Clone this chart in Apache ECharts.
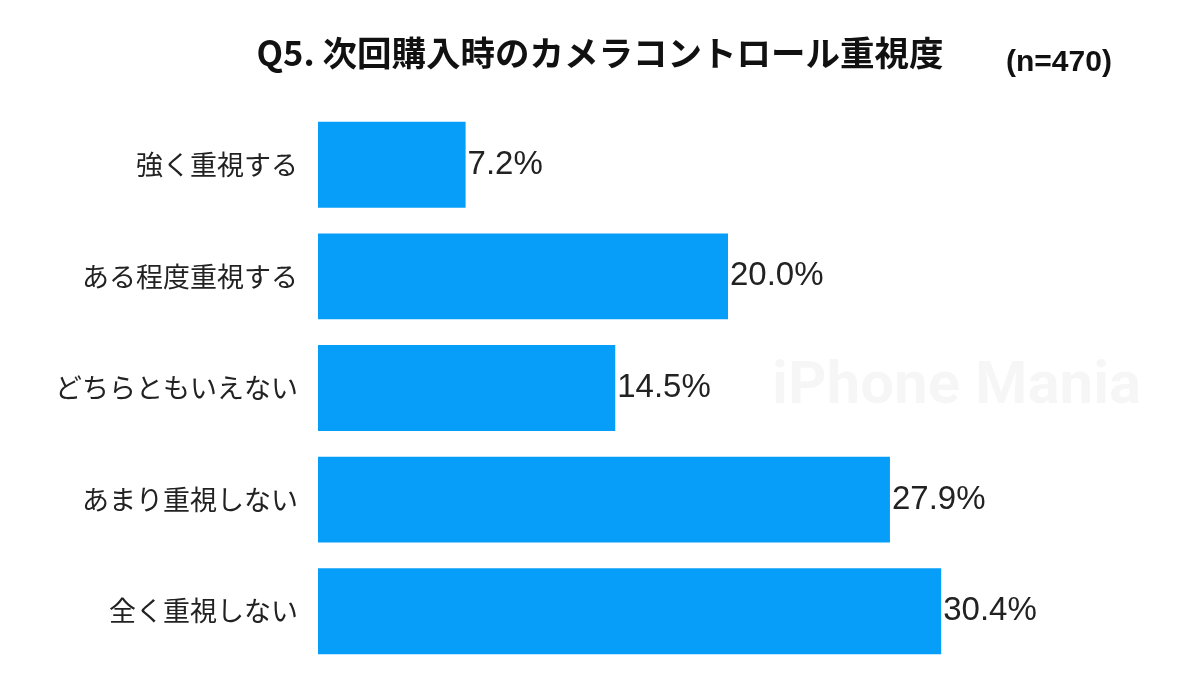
<!DOCTYPE html>
<html><head><meta charset="utf-8">
<script src="https://cdn.jsdelivr.net/npm/echarts@6/dist/echarts.min.js"></script>
<style>body{margin:0;background:#fff}#c{width:1200px;height:675px}</style></head>
<body><div id="c"></div>
<script>
const categories = ["強く重視する","ある程度重視する","どちらともいえない","あまり重視しない","全く重視しない"];
const values = [7.2, 20.0, 14.5, 27.9, 30.4];
const chart = echarts.init(document.getElementById('c'));
const F = '"Noto Sans CJK JP", sans-serif';
const L = '"Liberation Sans", Arial, sans-serif';
chart.setOption({
  animation:false,
  graphic:[
    {type:'text',left:'center',top:36,style:{text:'Q5. 次回購入時のカメラコントロール重視度',font:'bold 34.5px '+F,fill:'#111'}},
    {type:'text',left:1006,top:48,style:{text:'(n=470)',font:'bold 30px '+L,fill:'#111'}},
    {type:'text',left:772,top:358,z:0,style:{text:'iPhone Mania',font:'bold 60px "Roboto", sans-serif',fill:'rgba(0,0,0,0.035)'}}
  ],
  grid:{left:318,right:62,top:109,bottom:8},
  xAxis:{type:'value',min:0,max:40,show:false},
  yAxis:{type:'category',inverse:true,data:categories,
    axisLine:{show:false},axisTick:{show:false},
    axisLabel:{fontFamily:F,fontSize:27,color:'#222',margin:20}},
  series:[{type:'bar',data:values,barCategoryGap:'23%',
    itemStyle:{color:'#069ef8'},
    label:{show:true,position:'right',distance:2,formatter:p=>p.value.toFixed(1)+'%',
      fontFamily:L,fontSize:33,color:'#222'}}]
});
</script></body></html>
